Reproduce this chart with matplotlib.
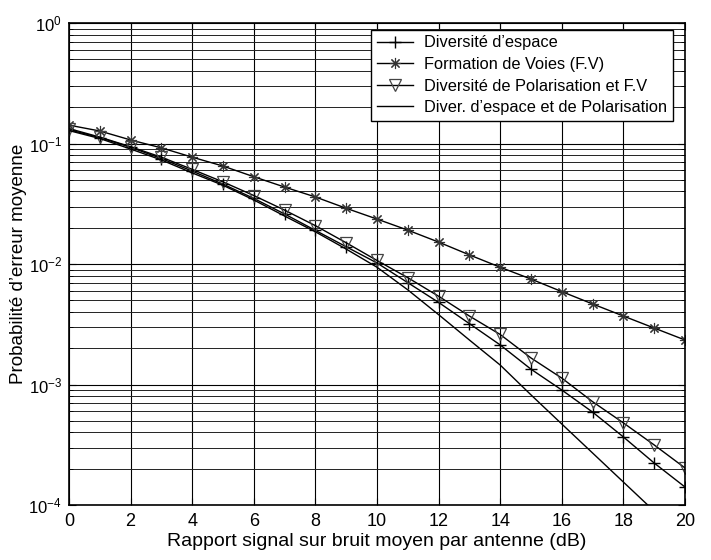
import numpy as np
import matplotlib
matplotlib.use('Agg')
import matplotlib.pyplot as plt
from matplotlib.ticker import LogLocator, NullFormatter

plt.rcParams['font.family'] = ['Liberation Sans', 'DejaVu Sans']
plt.rcParams['mathtext.fontset'] = 'custom'
plt.rcParams['mathtext.rm'] = 'Liberation Sans'
plt.rcParams['mathtext.default'] = 'regular'

# snr in dB, one marker per dB
snr = np.arange(0, 21)

# Diversite d'espace (+)
div_espace = [0.130, 0.112, 0.093, 0.075, 0.059, 0.046, 0.035, 0.026, 0.019, 0.0139,
              0.0102, 0.0070, 0.0048, 0.0032, 0.00213, 0.00134, 0.00090, 0.00059,
              0.000367, 0.000223, 0.000141]
# Formation de Voies (*)
form_voies = [0.142, 0.127, 0.107, 0.092, 0.077, 0.065, 0.053, 0.0435, 0.036, 0.029,
              0.0236, 0.0191, 0.0152, 0.0119, 0.0094, 0.0075, 0.0059, 0.00466,
              0.0037, 0.00294, 0.00234]
# Diversite de Polarisation et F.V (triangles)
div_pol_fv = [0.133, 0.113, 0.094, 0.077, 0.061, 0.048, 0.037, 0.028, 0.0208, 0.0150,
              0.0107, 0.0077, 0.0054, 0.0037, 0.0026, 0.00166, 0.00113, 0.00072,
              0.00048, 0.000315, 0.000203]
# Diver. d'espace et de Polarisation (plain line)
div_esp_pol = [0.128, 0.110, 0.090, 0.073, 0.057, 0.045, 0.034, 0.025, 0.0185, 0.0133,
               0.0094, 0.0061, 0.0038, 0.00234, 0.00145, 0.00082, 0.00047, 0.00027,
               0.000155, 0.000089, 0.000051]

labels = ["Diversité d\u2019espace", "Formation de Voies (F.V)",
          "Diversité de Polarisation et F.V", "Diver. d\u2019espace et de Polarisation"]

fig = plt.figure(figsize=(7.11, 5.6), dpi=100)
ax = fig.add_axes([69/711, 55/560, 616/711, 482/560])

ax.semilogy(snr, div_espace, color='black', lw=1, marker='+', ms=9, mew=1, label=labels[0])
ax.semilogy(snr, form_voies, color='black', lw=1, marker=(8, 2, 0), ms=8, mew=0.8,
            mec='#333333', label=labels[1])
ax.semilogy(snr, div_pol_fv, color='black', lw=1, marker='v', ms=9, mew=0.9,
            mfc='none', mec='#444444', label=labels[2])
ax.semilogy(snr, div_esp_pol, color='black', lw=1, label=labels[3])

ax.set_xlim(0, 20)
ax.set_ylim(1e-4, 1)
ax.set_xticks(np.arange(0, 21, 2))
ax.yaxis.set_major_locator(LogLocator(base=10, numticks=10))
ax.yaxis.set_minor_locator(LogLocator(base=10, subs=np.arange(2, 10), numticks=20))
ax.yaxis.set_minor_formatter(NullFormatter())

ax.grid(True, which='major', color='black', lw=0.8)
ax.grid(True, which='minor', axis='y', color='#222222', lw=0.7)
ax.set_axisbelow(True)
ax.tick_params(which='both', direction='in', top=True, right=True)
ax.tick_params(which='major', length=5)
ax.tick_params(which='minor', length=3)
ax.tick_params(axis='x', pad=6, labelsize=13)
ax.tick_params(axis='y', pad=5, labelsize=12)
for s in ax.spines.values():
    s.set_linewidth(1.2)

ax.set_xlabel("Rapport signal sur bruit moyen par antenne (dB)", fontsize=14, labelpad=2)
ax.set_ylabel("Probabilité d\u2019erreur moyenne", fontsize=13.5)
ax.yaxis.set_label_coords(-0.068, 0.5)

leg = ax.legend(loc='upper right', bbox_to_anchor=(0.981, 0.986), fontsize=11.8,
                fancybox=False, framealpha=1, edgecolor='black', borderpad=0.35,
                labelspacing=0.4, handlelength=2.2, handletextpad=0.7, borderaxespad=0)
leg.get_frame().set_linewidth(1.0)

fig.savefig('out.png', dpi=100)
